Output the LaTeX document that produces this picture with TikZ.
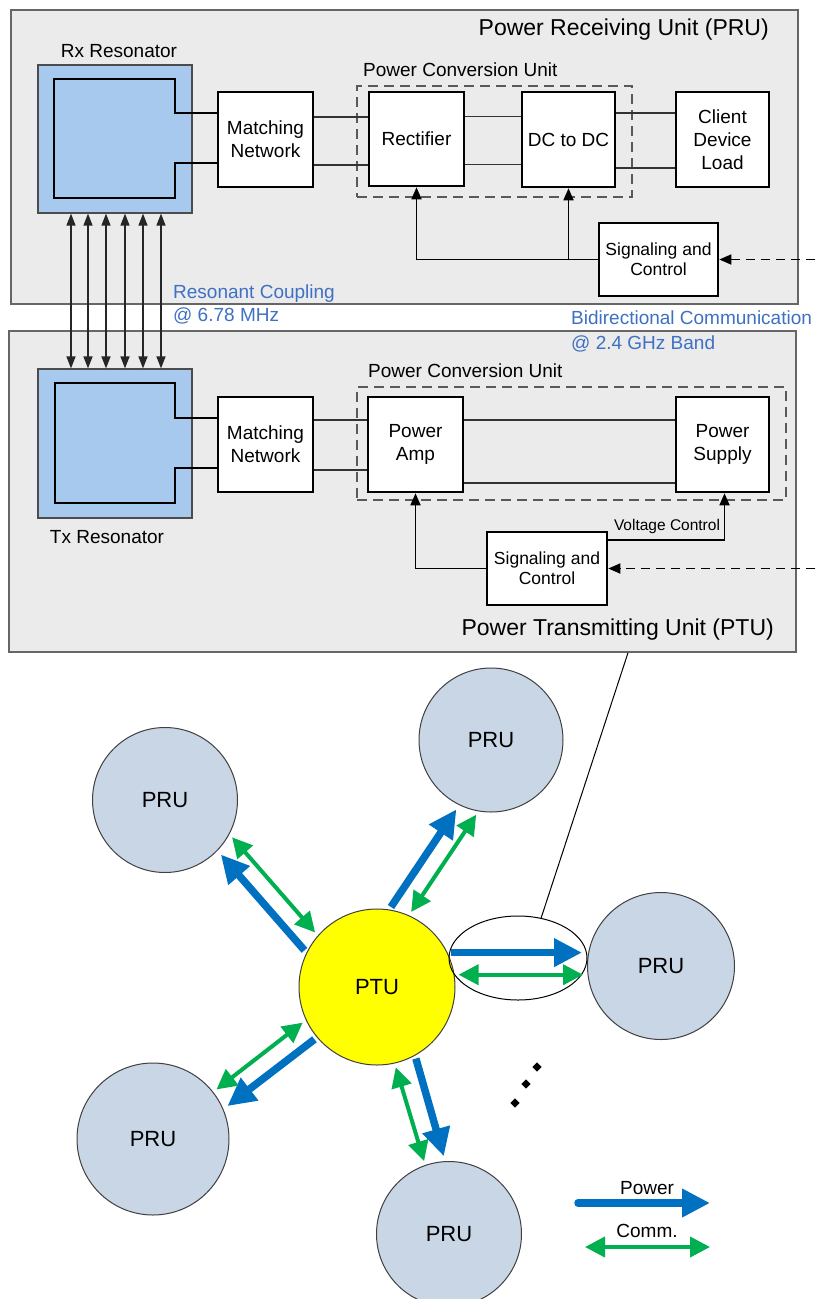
\documentclass[tikz,border=0pt]{standalone}
\usepackage{fontspec}
\setmainfont{Liberation Sans}
\usetikzlibrary{arrows.meta}
\usetikzlibrary{shapes.geometric}

\definecolor{unitgray}{RGB}{235,235,235}
\definecolor{resblue}{RGB}{167,201,238}
\definecolor{txtblue}{RGB}{62,112,196}
\definecolor{prufill}{RGB}{200,214,230}
\definecolor{pwrblue}{RGB}{0,112,192}
\definecolor{commgreen}{RGB}{0,176,80}
\definecolor{ptuyellow}{RGB}{255,255,0}

\begin{document}
\begin{tikzpicture}[x=1pt,y=-1pt,
  unitbox/.style={draw=black!60,line width=1.5pt,fill=unitgray},
  resbox/.style={draw=black!70,line width=1.2pt,fill=resblue},
  blk/.style={draw,line width=2.6pt,fill=white,align=center,inner sep=0pt,font=\fontsize{19}{23}\selectfont},
  pcu/.style={draw=black!65,line width=1.7pt,dash pattern=on 10pt off 6pt},
  wire/.style={draw=black!80,line width=1.5pt},
  coilline/.style={line width=2.8pt,line join=miter},
  sigarrow/.style={line width=1.7pt,-{Triangle[length=12pt,width=10pt]}},
  rflink/.style={line width=1.7pt,dash pattern=on 9pt off 6pt,-{Triangle[length=12pt,width=10pt]}},
  couple/.style={line width=1.3pt,draw=black!85,{Triangle[length=12pt,width=9pt]}-{Triangle[length=12pt,width=9pt]}},
  lbl/.style={font=\fontsize{19}{23}\selectfont,inner sep=0pt},
  bluelbl/.style={text=txtblue,align=left,inner sep=0pt},
  ttl/.style={font=\fontsize{23}{27}\selectfont,inner sep=0pt},
  prucirc/.style={circle,draw=black!75,line width=1pt,fill=prufill,minimum size=145pt,font=\fontsize{22}{26}\selectfont},
  ptucirc/.style={prucirc,fill=ptuyellow,minimum size=156pt},
  pwrarrow/.style={draw=pwrblue,line width=7.5pt,-{Triangle[length=28pt,width=27pt]},shorten >=5pt,shorten <=3pt},
  commarrow/.style={draw=commgreen,line width=4pt,{Triangle[length=20pt,width=20pt]}-{Triangle[length=20pt,width=20pt]},shorten >=4pt,shorten <=4pt},
  dotmark/.style={fill=black,minimum size=6.5pt,inner sep=0pt,rotate=45}]
  \useasboundingbox (0,0) rectangle (815,1299);
  \fill[white] (0,0) rectangle (815,1299);

  %top
  \node[unitbox,minimum width=787pt,minimum height=294pt,at={(404.5,157)}] (prubox) {};
  \node[ttl,anchor=east,at={(769,30)}] (prutitle) {Power Receiving Unit (PRU)};
  \node[resbox,minimum width=154pt,minimum height=148pt,at={(115,139)}] (rxres) {};
  \node[lbl,at={(119,51)}] (rxlabel) {Rx Resonator};
  \node[pcu,minimum width=275pt,minimum height=111pt,at={(494.5,141.5)}] (pcuR) {};
  \node[lbl,anchor=west,at={(363,70)}] (pcuRlabel) {Power Conversion Unit};
  \node[blk,minimum width=95pt,minimum height=95pt,at={(265.5,139.5)}] (mnR) {Matching\\Network};
  \node[blk,minimum width=95pt,minimum height=94pt,at={(416.5,139)}] (rect) {Rectifier};
  \node[blk,minimum width=93pt,minimum height=95pt,at={(568.5,139.5)}] (dcdc) {DC to DC};
  \node[blk,minimum width=93pt,minimum height=95pt,at={(722.5,139.5)}] (load) {Client\\Device\\Load};
  \node[blk,minimum width=119pt,minimum height=73pt,font=\fontsize{17.5}{20}\selectfont,at={(658.5,259.5)}] (sigR) {Signaling and\\Control};
  \draw[coilline] ([yshift=26.5pt]mnR.west) -- (175,113) -- (175,79) -- (54,79) -- (54,198) -- (175,198) -- (175,163) -- ([yshift=-23.5pt]mnR.west);
  \foreach \dy in {22.5,-25.5} {
    \draw[wire] ([yshift=\dy pt]mnR.east) -- ([yshift=\dy pt]mnR.east -| rect.west);
    \draw[wire] ([yshift=\dy pt]rect.east) -- ([yshift=\dy pt]rect.east -| dcdc.west);
  }
  \foreach \dy in {26.5,-28.5}
    \draw[wire] ([yshift=\dy pt]dcdc.east) -- ([yshift=\dy pt]dcdc.east -| load.west);
  \draw[sigarrow] (sigR.west) -| (rect.south);
  \draw[sigarrow] (sigR.west -| dcdc.south) -- (dcdc.south);
  \coordinate (rxlink) at (815,259.5);
  \draw[rflink] (rxlink) -- (sigR.east);

  %middle
  \node[unitbox,minimum width=787pt,minimum height=321pt,at={(402.5,491.5)}] (ptubox) {};
  \node[ttl,anchor=east,at={(774,630)}] (ptutitle) {Power Transmitting Unit (PTU)};
  \node[resbox,minimum width=154pt,minimum height=149pt,at={(115,443.5)}] (txres) {};
  \node[lbl,at={(107,537)}] (txlabel) {Tx Resonator};
  \node[pcu,minimum width=429pt,minimum height=113pt,at={(571.5,443.5)}] (pcuT) {};
  \node[lbl,anchor=west,at={(368,371)}] (pcuTlabel) {Power Conversion Unit};
  \node[blk,minimum width=95pt,minimum height=95pt,at={(265.5,444.5)}] (mnT) {Matching\\Network};
  \node[blk,minimum width=95pt,minimum height=95pt,at={(415.5,444.5)}] (pamp) {Power\\Amp};
  \node[blk,minimum width=93pt,minimum height=95pt,at={(722.5,444.5)}] (psup) {Power\\Supply};
  \node[blk,minimum width=120pt,minimum height=73pt,font=\fontsize{17.5}{20}\selectfont,at={(547,568.5)}] (sigT) {Signaling and\\Control};
  \draw[coilline] ([yshift=26.5pt]mnT.west) -- (175,418) -- (175,383) -- (55,383) -- (55,503) -- (175,503) -- (175,468) -- ([yshift=-23.5pt]mnT.west);
  \foreach \dy in {24.5,-25.5}
    \draw[wire] ([yshift=\dy pt]mnT.east) -- ([yshift=\dy pt]mnT.east -| pamp.west);
  \foreach \dy in {24.5,-38.5}
    \draw[wire] ([yshift=\dy pt]pamp.east) -- ([yshift=\dy pt]pamp.east -| psup.west);
  \draw[sigarrow] (sigT.west) -| (pamp.south);
  \draw[sigarrow] ([yshift=28.5pt]sigT.east) -| ([xshift=2pt]psup.south);
  \node[font=\fontsize{15.5}{18}\selectfont,inner sep=0pt,at={(667,526)}] (vclabel) {Voltage Control};
  \coordinate (txlink) at (815,568.5);
  \draw[rflink] (txlink) -- (sigT.east);

  %coupling
  \foreach \dx in {-44,-27,-9,10,28,46}
    \draw[couple] ([xshift=\dx pt]rxres.south) -- ([xshift=\dx pt]txres.north);
  \node[bluelbl,font=\fontsize{19}{23}\selectfont,anchor=west,at={(173,304.5)}] (rclabel) {Resonant Coupling\\@ 6.78 MHz};
  \node[bluelbl,font=\fontsize{19}{25}\selectfont,anchor=west,at={(571,331)}] (bclabel) {Bidirectional Communication\\@ 2.4 GHz Band};

  %bottom
  \node[ptucirc,at={(377,987)}] (ptu) {PTU};
  \node[prucirc,at={(165,800)}] (pru1) {PRU};
  \node[prucirc,minimum size=144pt,at={(491,740)}] (pru2) {PRU};
  \node[prucirc,minimum size=147pt,at={(661,966)}] (pru3) {PRU};
  \node[prucirc,minimum size=152pt,at={(153,1139)}] (pru4) {PRU};
  \node[prucirc,at={(449,1234)}] (pru5) {PRU};
  \node[ellipse,draw,line width=1pt,minimum width=138pt,minimum height=84pt,at={(518,958)}] (zoomell) {};
  \draw[line width=1pt] ([xshift=225.5pt]ptubox.south) -- (zoomell.60);

  \draw[pwrarrow] (ptu.154) -- (pru1.-44);
  \draw[commarrow] (ptu.139) -- (pru1.-28);
  \draw[pwrarrow] (ptu.81) -- (pru2.-116);
  \draw[commarrow] (ptu.66) -- (pru2.-100);
  \draw[pwrarrow] (ptu.26) -- (ptu.26 -| pru3.west);
  \draw[commarrow] (ptu.9) -- (ptu.9 -| pru3.west);
  \draw[pwrarrow] (ptu.220) -- (pru4.23);
  \draw[commarrow] (ptu.205) -- (pru4.38);
  \draw[pwrarrow] (ptu.-61) -- (pru5.93);
  \draw[commarrow] (ptu.-77) -- (pru5.109);

  \node[dotmark,at={(537,1067)}] (dot1) {};
  \node[dotmark,at={(526,1084)}] (dot2) {};
  \node[dotmark,at={(515,1103)}] (dot3) {};

  %legend
  \coordinate (pwrA) at (578,1203);
  \coordinate (pwrB) at (710,1203);
  \coordinate (commA) at (585,1247);
  \coordinate (commB) at (710,1247);
  \draw[pwrarrow,shorten >=0pt,shorten <=0pt,line cap=round] (pwrA) -- (pwrB);
  \draw[commarrow,shorten >=0pt,shorten <=0pt] (commA) -- (commB);
  \node[font=\fontsize{19}{22}\selectfont,inner sep=0pt,at={(647,1188)}] (pwrlabel) {Power};
  \node[font=\fontsize{19}{22}\selectfont,inner sep=0pt,at={(647,1231)}] (commlabel) {Comm.};
\end{tikzpicture}
\end{document}
